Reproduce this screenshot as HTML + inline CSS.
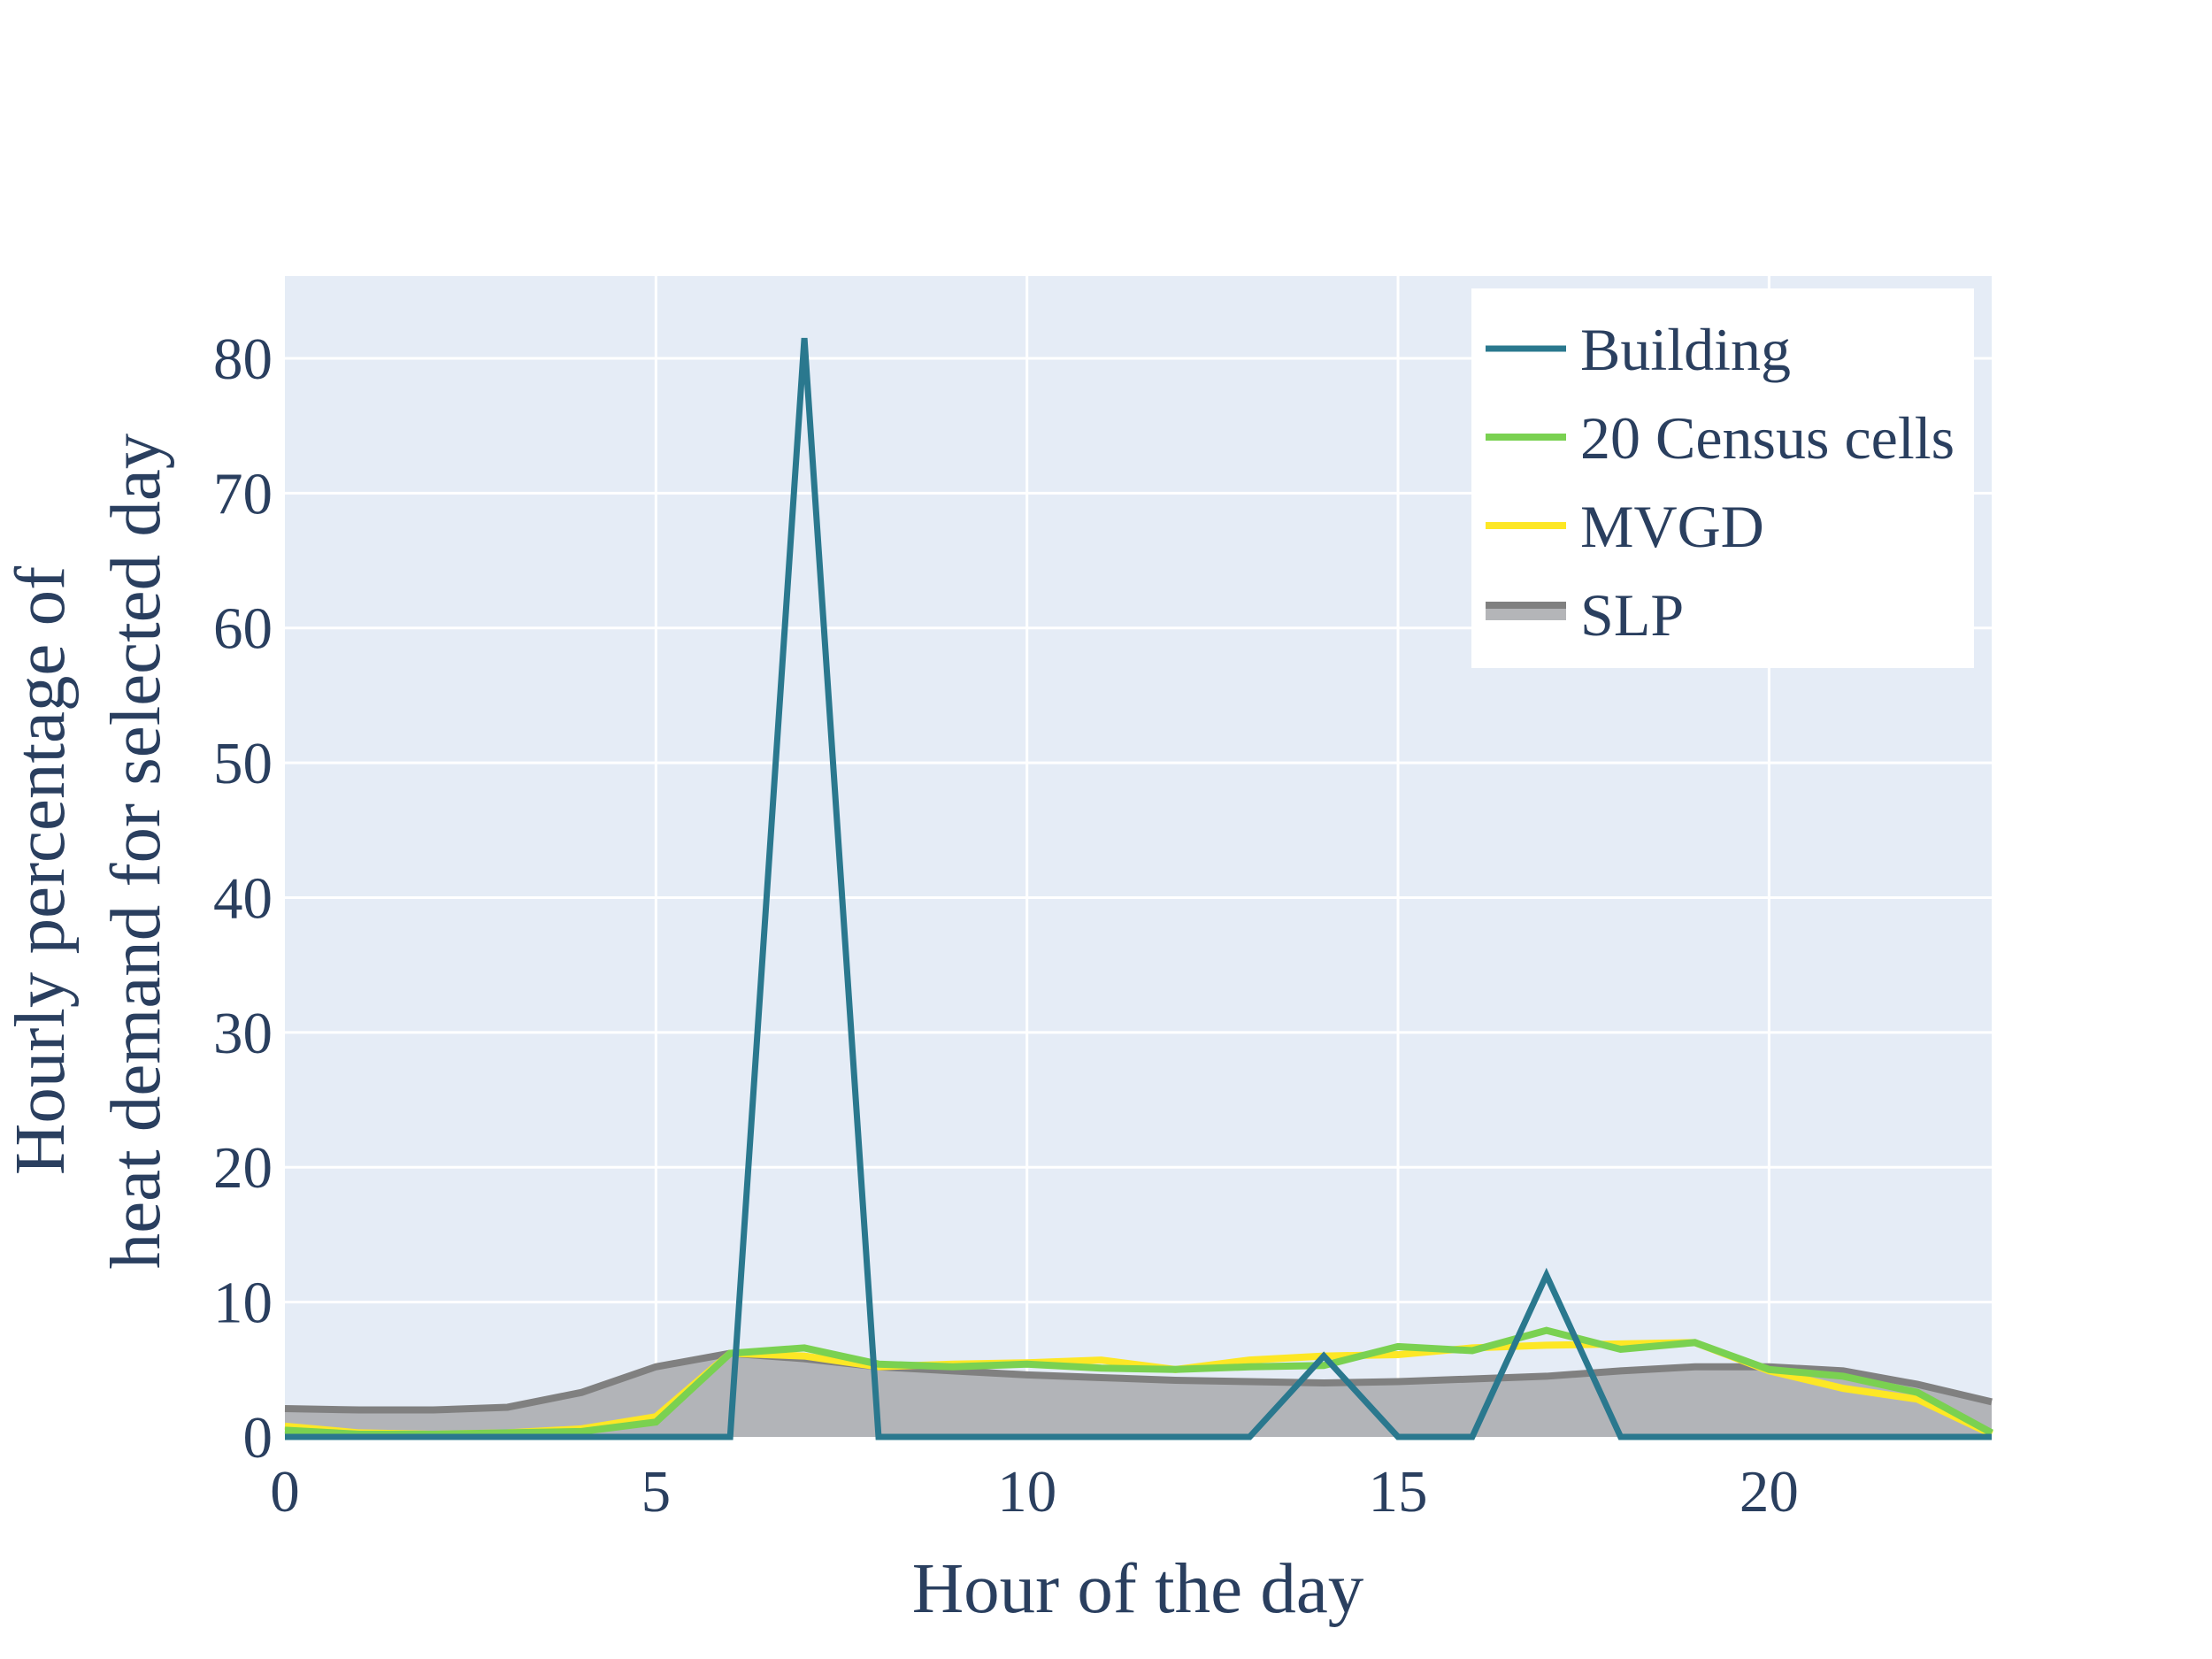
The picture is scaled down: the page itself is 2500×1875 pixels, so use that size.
<!DOCTYPE html>
<html><head><meta charset="utf-8"><style>
html,body{margin:0;padding:0;background:#fff}
svg{display:block;font-family:"Liberation Serif",serif}
</style></head><body>
<svg id="chart" width="2500" height="1875" viewBox="0 0 2500 1875" xmlns="http://www.w3.org/2000/svg">
<rect x="0" y="0" width="2500" height="1875" fill="#fff"/>
<rect x="322" y="312" width="1929" height="1312" fill="#e5ecf6"/>
<g id="grid"></g>
<g id="series"></g>
<g id="ticks" fill="#2a3f5f" font-size="67"></g>
<text x="1286" y="1822" text-anchor="middle" font-size="81" fill="#2a3f5f">Hour of the day</text>
<g fill="#2a3f5f" font-size="81" text-anchor="middle">
<text transform="translate(72,984) rotate(-90)">Hourly percentage of</text>
<text transform="translate(180,962) rotate(-90)">heat demand for selected day</text>
</g>
<g transform="translate(-6,0)">
<rect x="1669" y="326" width="568" height="429" fill="#fff"/>
<line x1="1685" y1="394" x2="1776" y2="394" stroke="#2a788e" stroke-width="7"/>
<text x="1792" y="418" font-size="68" fill="#2a3f5f">Building</text>
<line x1="1685" y1="494" x2="1776" y2="494" stroke="#7ad151" stroke-width="8"/>
<text x="1792" y="518" font-size="68" fill="#2a3f5f">20 Census cells</text>
<line x1="1685" y1="594" x2="1776" y2="594" stroke="#fde725" stroke-width="8"/>
<text x="1792" y="618" font-size="68" fill="#2a3f5f">MVGD</text>
<rect x="1685" y="686" width="91" height="15" fill="#b4b5b8"/>
<line x1="1685" y1="684" x2="1776" y2="684" stroke="#808080" stroke-width="8"/>
<text x="1792" y="718" font-size="68" fill="#2a3f5f">SLP</text>
</g>
</svg>
<script>
const hours = [0,1,2,3,4,5,6,7,8,9,10,11,12,13,14,15,16,17,18,19,20,21,22,23];
const building = [0,0,0,0,0,0,0,81.5,0,0,0,0,0,0,6,0,0,12,0,0,0,0,0,0];
const census = [0.5,0.2,0.2,0.3,0.4,1.1,6.2,6.6,5.4,5.2,5.4,5.1,5.0,5.2,5.3,6.7,6.4,7.9,6.5,7.0,5.0,4.5,3.3,0.3];
const mvgd = [0.8,0.3,0.2,0.3,0.6,1.5,6.2,6.0,5.2,5.4,5.5,5.7,5.0,5.7,6.0,6.1,6.6,6.8,6.9,7.0,4.9,3.6,2.8,0.2];
const slp = [2.1,2.0,2.0,2.2,3.3,5.2,6.2,5.8,5.2,4.9,4.6,4.4,4.2,4.1,4.0,4.1,4.3,4.5,4.9,5.2,5.2,4.9,3.9,2.6];
const xTicks = [0,5,10,15,20];
const yTicks = [0,10,20,30,40,50,60,70,80];
const X0=322,X1=2251,Y0=1624,Y1=312,XMAX=23,YMAX=86.1;
const sx=v=>X0+(X1-X0)*v/XMAX;
const sy=v=>Y0-(Y0-Y1)*v/YMAX;
const NS="http://www.w3.org/2000/svg";
function mk(tag,attrs,parent){const e=document.createElementNS(NS,tag);for(const k in attrs)e.setAttribute(k,attrs[k]);parent.appendChild(e);return e;}
const grid=document.getElementById('grid'),ticks=document.getElementById('ticks'),series=document.getElementById('series');
xTicks.forEach(t=>{
  if(t>0){const l=mk('line',{x1:sx(t),x2:sx(t),y1:Y1,y2:Y0,stroke:'#fff','stroke-width':3},grid);
  
  }
  const tx=mk('text',{x:sx(t),y:1708,'text-anchor':'middle'},ticks);tx.textContent=t;
  
  
});
yTicks.forEach(t=>{
  if(t>0){const l=mk('line',{x1:X0,x2:X1,y1:sy(t),y2:sy(t),stroke:'#fff','stroke-width':3},grid);
  
  }
  const tx=mk('text',{x:308,y:sy(t)+23,'text-anchor':'end'},ticks);tx.textContent=t;
  
  
});
const pts=a=>a.map((v,i)=>sx(hours[i])+','+sy(v)).join(' ');
const area=mk('polygon',{points:pts(slp)+' '+sx(23)+','+sy(0)+' '+sx(0)+','+sy(0),fill:'#b2b4b8'},series);


const s1=mk('polyline',{points:pts(slp),fill:'none',stroke:'#808080','stroke-width':8},series);


const s2=mk('polyline',{points:pts(mvgd),fill:'none',stroke:'#fde725','stroke-width':8},series);


const s3=mk('polyline',{points:pts(census),fill:'none',stroke:'#7ad151','stroke-width':8},series);


const s4=mk('polyline',{points:pts(building),fill:'none',stroke:'#2a788e','stroke-width':7},series);


</script>
</body></html>
